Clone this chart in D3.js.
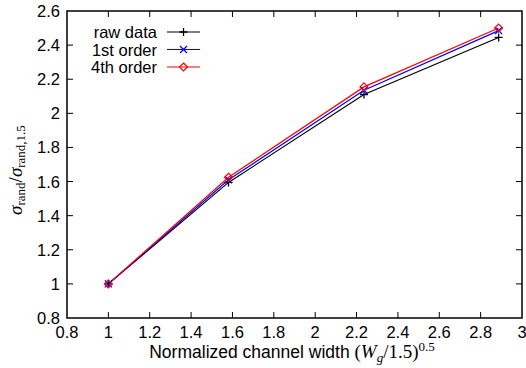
<!DOCTYPE html>
<html>
<head>
<meta charset="utf-8">
<script src="https://cdn.jsdelivr.net/npm/d3@7"></script>
<style>
  body { margin: 0; background: #fff; }
  svg text { font-family: "Liberation Sans", Arial, sans-serif; }
  svg .math { font-family: "Liberation Serif", "DejaVu Serif", serif; }
</style>
</head>
<body>
<svg class="svg"></svg>
<script>
const svgWidth = 526;
const svgHeight = 368;

// data
const xValues = [1, 1.581, 2.236, 2.887];
const rawData = [1, 1.595, 2.11, 2.445];
const firstOrder = [1, 1.61, 2.135, 2.485];
const fourthOrder = [1, 1.625, 2.155, 2.5];
const seriesNames = ["raw data", "1st order", "4th order"];
const colors = ["#000000", "#0000ff", "#ff0000"];
const xTicks = [0.8, 1, 1.2, 1.4, 1.6, 1.8, 2, 2.2, 2.4, 2.6, 2.8, 3];
const yTicks = [0.8, 1, 1.2, 1.4, 1.6, 1.8, 2, 2.2, 2.4, 2.6];

const series = [rawData, firstOrder, fourthOrder];

const svg = d3.select(".svg")
    .attr("width", svgWidth)
    .attr("height", svgHeight);

const plotLeft = 67, plotRight = 522, plotTop = 11, plotBottom = 318;

const xScale = d3.scaleLinear().domain([0.8, 3]).range([plotLeft, plotRight]);
const yScale = d3.scaleLinear().domain([0.8, 2.6]).range([plotBottom, plotTop]);

// ticks, inward on all sides
const tickLen = 6;
svg.append("g").selectAll("line")
    .data(xTicks.slice(1, -1))
    .enter().append("line")
    .attr("x1", d => xScale(d)).attr("x2", d => xScale(d))
    .attr("y1", plotBottom).attr("y2", plotBottom - tickLen)
    .attr("stroke", "#000").attr("stroke-width", 1);
svg.append("g").selectAll("line")
    .data(xTicks.slice(1, -1))
    .enter().append("line")
    .attr("x1", d => xScale(d)).attr("x2", d => xScale(d))
    .attr("y1", plotTop).attr("y2", plotTop + tickLen)
    .attr("stroke", "#000").attr("stroke-width", 1);
svg.append("g").selectAll("line")
    .data(yTicks.slice(1, -1))
    .enter().append("line")
    .attr("x1", plotLeft).attr("x2", plotLeft + tickLen)
    .attr("y1", d => yScale(d)).attr("y2", d => yScale(d))
    .attr("stroke", "#000").attr("stroke-width", 1);
svg.append("g").selectAll("line")
    .data(yTicks.slice(1, -1))
    .enter().append("line")
    .attr("x1", plotRight).attr("x2", plotRight - tickLen)
    .attr("y1", d => yScale(d)).attr("y2", d => yScale(d))
    .attr("stroke", "#000").attr("stroke-width", 1);

// frame
svg.append("rect")
    .attr("x", plotLeft).attr("y", plotTop)
    .attr("width", plotRight - plotLeft).attr("height", plotBottom - plotTop)
    .attr("fill", "none").attr("stroke", "#000").attr("stroke-width", 1.5);

// tick labels
svg.append("g").selectAll("text")
    .data(xTicks)
    .enter().append("text")
    .text(d => d3.format("")(d))
    .attr("x", d => xScale(d))
    .attr("y", plotBottom + 20)
    .attr("text-anchor", "middle")
    .attr("font-size", 16.5);
svg.append("g").selectAll("text")
    .data(yTicks)
    .enter().append("text")
    .text(d => d3.format("")(d))
    .attr("x", plotLeft - 7)
    .attr("y", d => yScale(d) + 6)
    .attr("text-anchor", "end")
    .attr("font-size", 16.5);

// x axis label
const xl = svg.append("text")
    .attr("x", 292).attr("y", 358)
    .attr("text-anchor", "middle")
    .attr("font-size", 17.5);
xl.append("tspan").text("Normalized channel width ");
xl.append("tspan").attr("class", "math").attr("font-size", 19).text("(");
xl.append("tspan").attr("class", "math").attr("font-size", 19).attr("font-style", "italic").text("W");
xl.append("tspan").attr("class", "math").attr("font-style", "italic").attr("font-size", 13).attr("dy", 4).text("g");
xl.append("tspan").attr("class", "math").attr("font-size", 19).attr("dy", -4).text("/1.5)");
xl.append("tspan").attr("class", "math").attr("font-size", 13).attr("dy", -7).text("0.5");

// y axis label
const yl = svg.append("text")
    .attr("class", "math")
    .attr("transform", "translate(22," + 170 + ") rotate(-90)")
    .attr("text-anchor", "middle")
    .attr("font-size", 19);
yl.append("tspan").attr("font-style", "italic").text("σ");
yl.append("tspan").attr("font-size", 13).attr("dy", 3).text("rand");
yl.append("tspan").attr("dy", -3).text("/");
yl.append("tspan").attr("font-style", "italic").text("σ");
yl.append("tspan").attr("font-size", 13).attr("dy", 3).text("rand,1.5");

// lines
const line = d3.line()
    .x((d, i) => xScale(xValues[i]))
    .y(d => yScale(d));

series.forEach((s, k) => {
    svg.append("path")
        .datum(s)
        .attr("d", line)
        .attr("fill", "none")
        .attr("stroke", colors[k])
        .attr("stroke-width", 1.2);
});

// markers
function drawMarker(g, k, cx, cy) {
    if (k === 0) {
        g.append("path")
            .attr("d", `M${cx - 4},${cy}H${cx + 4}M${cx},${cy - 4}V${cy + 4}`)
            .attr("stroke", colors[k]).attr("stroke-width", 1.3).attr("fill", "none");
    } else if (k === 1) {
        g.append("path")
            .attr("d", `M${cx - 3.5},${cy - 3.5}L${cx + 3.5},${cy + 3.5}M${cx - 3.5},${cy + 3.5}L${cx + 3.5},${cy - 3.5}`)
            .attr("stroke", colors[k]).attr("stroke-width", 1.3).attr("fill", "none");
    } else {
        g.append("path")
            .attr("d", `M${cx},${cy - 4}L${cx + 4},${cy}L${cx},${cy + 4}L${cx - 4},${cy}Z`)
            .attr("stroke", colors[k]).attr("stroke-width", 1.2).attr("fill", "none");
    }
}

series.forEach((s, k) => {
    const g = svg.append("g");
    s.forEach((d, i) => drawMarker(g, k, xScale(xValues[i]), yScale(d)));
});

// legend
const legend = svg.append("g");
seriesNames.forEach((name, k) => {
    const ly = 32 + k * 17.5;
    legend.append("text")
        .text(name)
        .attr("x", 157).attr("y", ly + 6)
        .attr("text-anchor", "end")
        .attr("font-size", 16.5);
    legend.append("line")
        .attr("x1", 167).attr("x2", 200)
        .attr("y1", ly).attr("y2", ly)
        .attr("stroke", colors[k]).attr("stroke-width", 1.2);
    drawMarker(legend, k, 183.5, ly);
});
</script>
</body>
</html>
